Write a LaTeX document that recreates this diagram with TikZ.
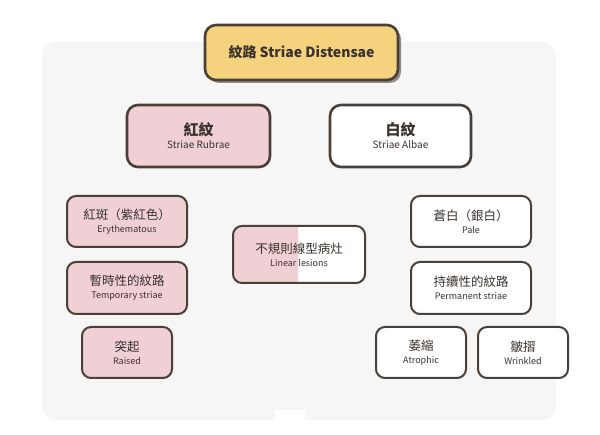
\documentclass[tikz,border=0pt]{standalone}
\usepackage{fontspec}
\setmainfont{Noto Sans CJK TC}
\definecolor{brd}{HTML}{4A4038}
\definecolor{bg}{HTML}{F6F6F6}
\definecolor{pk}{HTML}{F0D0D5}
\definecolor{yl}{HTML}{F5D27E}
\definecolor{tx}{HTML}{3A322C}
\tikzset{box/.style={draw=brd,line width=2pt,rounded corners=9pt},
 big/.style={box,line width=2.6pt,rounded corners=11pt}}
\newcommand\bx[7]{% name, x1,y1,x2,y2, style, fill
 \filldraw[#6,fill=#7] (#2,#3) rectangle (#4,#5);
 \coordinate (#1) at ({(#2+#4)/2},{(#3+#5)/2});}
\newcommand\twol[2]{{\fontsize{12.5}{17}\selectfont #1}\\#2}
\begin{document}
\begin{tikzpicture}[x=1pt,y=-1pt,text=tx]
\useasboundingbox (0,0) rectangle (600,435);
\fill[bg,rounded corners=14pt] (42,42) rectangle (556,420);
\fill[white] (275,410) rectangle (305,420);
\fill[brd!60,rounded corners=11pt] (208,28) rectangle (401,83);
\bx{t}{205}{25}{398}{80}{big}{yl}
\node[font=\fontsize{14}{16}\selectfont\bfseries] at (t) {紋路 Striae Distensae};
\bx{r}{127}{105}{270}{167}{big}{pk}
\node[align=center,font=\fontsize{10}{13}\selectfont] at (r) {{\fontsize{15}{18}\selectfont\bfseries 紅紋}\\Striae Rubrae};
\bx{w}{330}{105}{471}{167}{big}{white}
\node[align=center,font=\fontsize{10}{13}\selectfont] at (w) {{\fontsize{15}{18}\selectfont\bfseries 白紋}\\Striae Albae};
\tikzset{lab/.style={align=center,font=\fontsize{9}{13}\selectfont}}
\bx{a}{67}{196}{187}{247}{box}{pk}
\node[lab] at (a) {\twol{紅斑（紫紅色）}{Erythematous}};
\bx{b}{67}{262}{187}{314}{box}{pk}
\node[lab] at (b) {\twol{暫時性的紋路}{Temporary striae}};
\bx{c}{82}{327}{172}{378}{box}{pk}
\node[lab] at (c) {\twol{突起}{Raised}};
\begin{scope}
\fill[white,rounded corners=9pt] (233,226) rectangle (365,283);
\clip (233,226) rectangle (298,283);
\fill[pk,rounded corners=9pt] (233,226) rectangle (365,283);
\end{scope}
\draw[box] (233,226) rectangle (365,283);
\coordinate (m) at (299,254.5);
\node[lab] at (m) {\twol{不規則線型病灶}{Linear lesions}};
\bx{d}{411}{196}{531}{247}{box}{white}
\node[lab] at (d) {\twol{蒼白（銀白）}{Pale}};
\bx{e}{411}{262}{531}{314}{box}{white}
\node[lab] at (e) {\twol{持續性的紋路}{Permanent striae}};
\bx{f}{376}{327}{466}{378}{box}{white}
\node[lab] at (f) {\twol{萎縮}{Atrophic}};
\bx{g}{478}{327}{568}{378}{box}{white}
\node[lab] at (g) {\twol{皺摺}{Wrinkled}};
\end{tikzpicture}
\end{document}
